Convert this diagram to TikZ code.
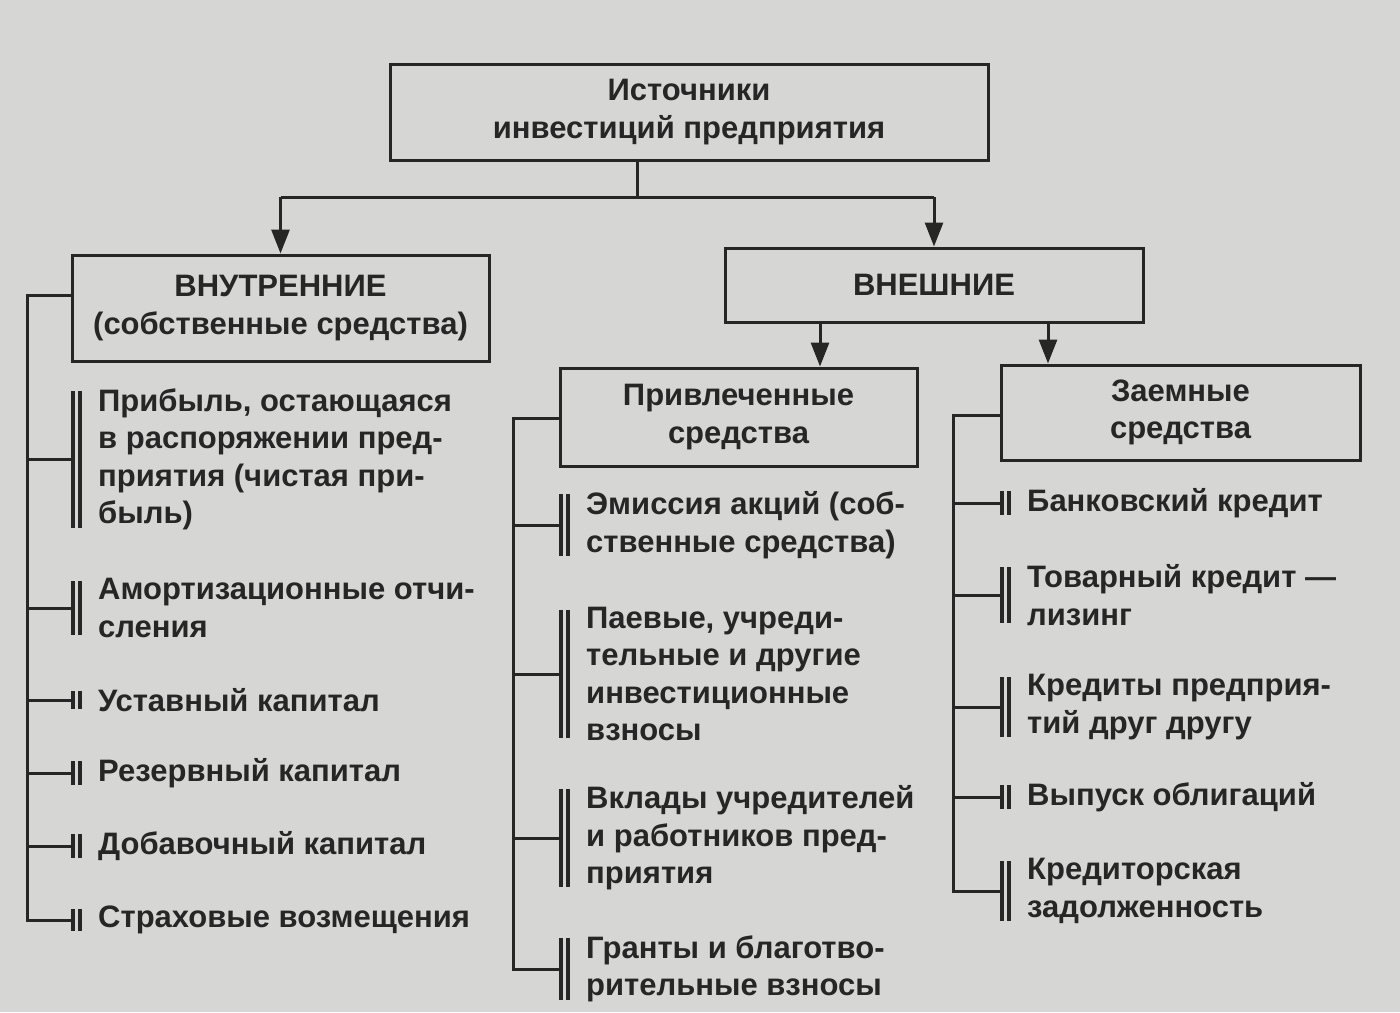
\documentclass[tikz,border=0pt]{standalone}
\usepackage{fontspec}
\setmainfont{Liberation Sans}
\usetikzlibrary{arrows.meta,calc}
\definecolor{paper}{RGB}{214,214,212}
\definecolor{ink}{RGB}{38,38,38}
\begin{document}
\begin{tikzpicture}[x=1pt,y=-1pt,
  every node/.style={text=ink,font=\fontsize{31}{37.5}\selectfont\bfseries},
  box/.style={draw=ink,line width=3pt,align=center,inner sep=0pt},
  item/.style={anchor=west,align=left,inner sep=0pt,inner ysep=-3pt},
  line/.style={draw=ink,line width=3pt},
  tip/.style={draw=ink,line width=3pt,-{Triangle[length=24pt,width=18pt]}},
  bar/.style={draw=ink,line width=3.4pt}
]
\fill[paper] (0,0) rectangle (1400,1012);
\useasboundingbox (0,0) rectangle (1400,1012);

% boxes
\node[box,minimum width=598pt,minimum height=96pt] (top) at (689,112) {Источники\\инвестиций предприятия};
\node[box,minimum width=417pt,minimum height=106pt] (vn) at (280.5,308) {ВНУТРЕННИЕ\\(собственные средства)};
\node[box,minimum width=418pt,minimum height=74pt] (vne) at (934,285) {ВНЕШНИЕ};
\node[box,minimum width=357pt,minimum height=98pt] (priv) at (738.5,417) {Привлеченные\\средства};
\node[box,minimum width=359pt,minimum height=95pt] (zaem) at (1180.5,412.5) {Заемные\\средства};

% arrows
\coordinate (hb) at (637,197);
\draw[line] (top.south -| hb) -- (hb);
\draw[line] (hb -| vn.north) -- (hb -| vne.north);
\draw[tip] (hb -| vn.north) -- (vn.north);
\draw[tip] (hb -| vne.north) -- (vne.north);
\draw[tip] (820,322) coordinate (a1) -- (a1 |- priv.north);
\draw[tip] (1048,322) coordinate (a2) -- (a2 |- zaem.north);

% left items
\node[item] (l1) at (98,459.5) {Прибыль, остающаяся\\в распоряжении пред-\\приятия (чистая при-\\быль)};
\node[item] (l2) at (98,608) {Амортизационные отчи-\\сления};
\node[item] (l3) at (98,700) {Уставный капитал};
\node[item] (l4) at (98,773) {Резервный капитал};
\node[item] (l5) at (98,846) {Добавочный капитал};
\node[item] (l6) at (98,920) {Страховые возмещения};

% middle items
\node[item] (m1) at (586,525) {Эмиссия акций (соб-\\ственные средства)};
\node[item] (m2) at (586,674) {Паевые, учреди-\\тельные и другие\\инвестиционные\\взносы};
\node[item] (m3) at (586,838) {Вклады учредителей\\и работников пред-\\приятия};
\node[item] (m4) at (586,969) {Гранты и благотво-\\рительные взносы};

% right items
\node[item] (r1) at (1027,503) {Банковский кредит};
\node[item] (r2) at (1027,595) {Товарный кредит —\\лизинг};
\node[item] (r3) at (1027,707) {Кредиты предприя-\\тий друг другу};
\node[item] (r4) at (1027,797) {Выпуск облигаций};
\node[item] (r5) at (1027,891) {Кредиторская\\задолженность};

% double bars
\foreach \n in {l1,l2,l3,l4,l5,l6,m1,m2,m3,m4,r1,r2,r3,r4,r5}{
  \draw[bar] ($(\n.north west)+(-25,0)$) -- ($(\n.south west)+(-25,0)$);
  \draw[bar] ($(\n.north west)+(-18,0)$) -- ($(\n.south west)+(-18,0)$);
}

% trees
\coordinate (lt) at (27,0);
\draw[line] (vn.west |- 0,295) -- (lt |- 0,295) -- (lt |- l6.west) -- ($(l6.west)+(-25,0)$);
\foreach \n in {l1,l2,l3,l4,l5}{
  \draw[line] (lt |- \n.west) -- ($(\n.west)+(-25,0)$);
}
\coordinate (mt) at (513,0);
\draw[line] (priv.west |- 0,418) -- (mt |- 0,418) -- (mt |- m4.west) -- ($(m4.west)+(-25,0)$);
\foreach \n in {m1,m2,m3}{
  \draw[line] (mt |- \n.west) -- ($(\n.west)+(-25,0)$);
}
\coordinate (rt) at (953,0);
\draw[line] (zaem.west |- 0,415) -- (rt |- 0,415) -- (rt |- r5.west) -- ($(r5.west)+(-25,0)$);
\foreach \n in {r1,r2,r3,r4}{
  \draw[line] (rt |- \n.west) -- ($(\n.west)+(-25,0)$);
}
\end{tikzpicture}
\end{document}
